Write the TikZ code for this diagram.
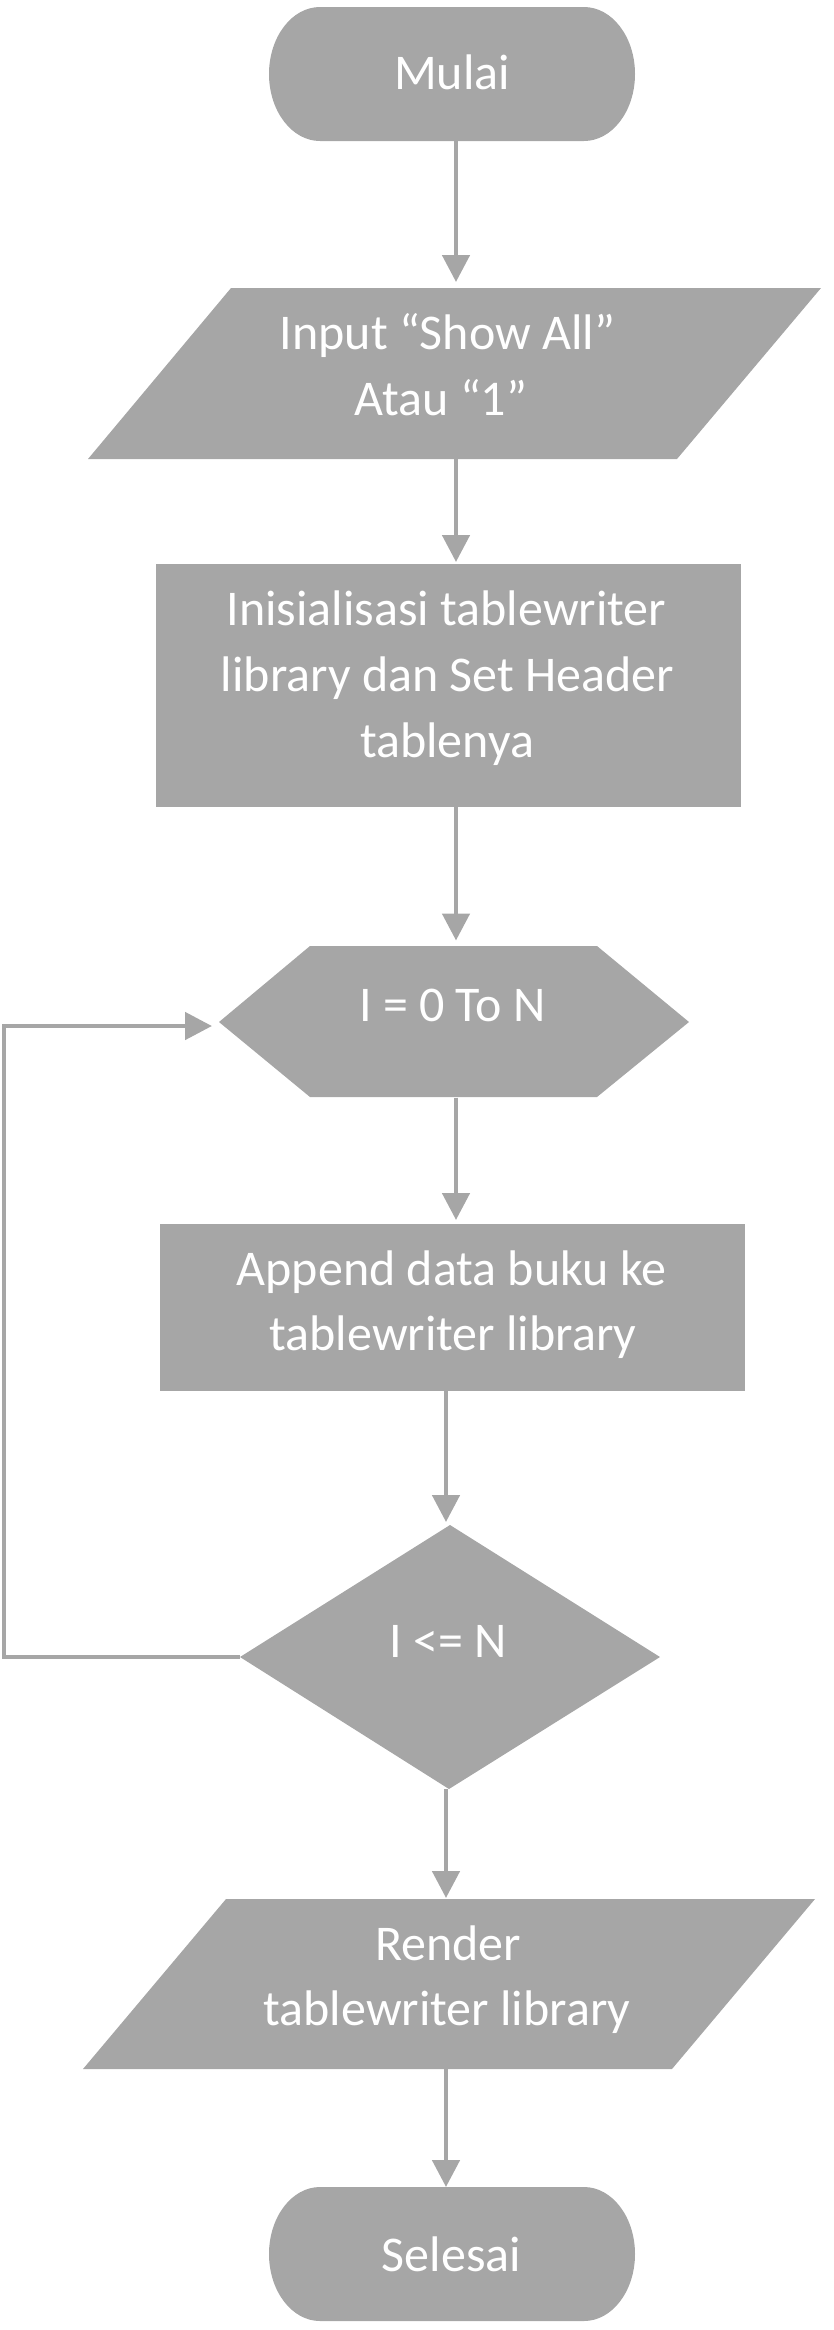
\documentclass[tikz,border=0pt]{standalone}
\usepackage{fontspec}
\setmainfont{Carlito}
\usetikzlibrary{arrows.meta}
\definecolor{gfill}{RGB}{166,166,166}
\definecolor{gline}{RGB}{166,166,166}
\tikzset{
  shapefill/.style={fill=gfill},
  bbox/.style={draw=none,inner sep=0pt,outer sep=0pt,rectangle},
  txt/.style={text=white,anchor=base,inner sep=0pt,font=\fontsize{50}{66}\selectfont},
  conn/.style={draw=gline,line width=4.8pt,-{Triangle[length=27pt,width=27pt]}},
}
\begin{document}
\begin{tikzpicture}[x=1pt,y=-1pt]
\useasboundingbox (0,0) rectangle (833,2330);
% shapes
\fill[shapefill] (320,7) -- (584,7) arc[start angle=-90,end angle=90,x radius=51,y radius=67] -- (320,141) arc[start angle=90,end angle=270,x radius=51,y radius=67] -- cycle;
\fill[shapefill] (231,288) -- (821,288) -- (677,459) -- (88,459) -- cycle;
\fill[shapefill] (156,564) rectangle (741,807);
\fill[shapefill] (219,1022) -- (310,946) -- (597,946) -- (689,1022) -- (597,1097) -- (310,1097) -- cycle;
\fill[shapefill] (160,1224) rectangle (745,1391);
\fill[shapefill] (450,1525) -- (660,1657) -- (449,1789) -- (240,1657) -- cycle;
\fill[shapefill] (226,1899) -- (815,1899) -- (672,2069) -- (83,2069) -- cycle;
\fill[shapefill] (320,2187) -- (584,2187) arc[start angle=-90,end angle=90,x radius=51,y radius=67] -- (320,2321) arc[start angle=90,end angle=270,x radius=51,y radius=67] -- cycle;
% invisible shape nodes
\node[bbox,minimum width=366pt,minimum height=134pt] (mulai) at (452,74) {};
\node[bbox,minimum width=733pt,minimum height=171pt] (input) at (454.5,373.5) {};
\node[bbox,minimum width=585pt,minimum height=243pt] (init) at (448.5,685.5) {};
\node[bbox,minimum width=470pt,minimum height=151pt] (loop) at (454,1022) {};
\node[bbox,minimum width=585pt,minimum height=167pt] (append) at (452.5,1307.5) {};
\node[bbox,minimum width=420pt,minimum height=264pt] (cond) at (450,1657) {};
\node[bbox,minimum width=732pt,minimum height=170pt] (render) at (449,1984) {};
\node[bbox,minimum width=366pt,minimum height=134pt] (selesai) at (452,2254) {};
\coordinate (lx) at (4,0);
% texts
\node[txt] (t-mulai) at (452,89) {Mulai};
\node[txt] (t-in1) at (447.5,349) {Input “Show All”};
\node[txt] (t-in2) at (441,415) {Atau “1”};
\node[txt] (t-init1) at (446.5,625) {Inisialisasi tablewriter};
\node[txt] (t-init2) at (447.5,691) {library dan Set Header};
\node[txt] (t-init3) at (447,757) {tablenya};
\node[txt] (t-loop) at (452.5,1021) {I = 0 To N};
\node[txt] (t-app1) at (451.5,1285) {Append data buku ke};
\node[txt] (t-app2) at (453,1350) {tablewriter library};
\node[txt] (t-cond) at (448,1657) {I <= N};
\node[txt] (t-ren1) at (448,1960) {Render};
\node[txt] (t-ren2) at (447,2025) {tablewriter library};
\node[txt] (t-sel) at (451.5,2271) {Selesai};
% connectors
\draw[conn,shorten >=6pt] ([xshift=4pt]mulai.south) -- ([xshift=4pt]mulai.south |- input.north);
\draw[conn,shorten >=2pt] ([xshift=1.5pt]input.south) -- ([xshift=1.5pt]input.south |- init.north);
\draw[conn,shorten >=6pt] ([xshift=7.5pt]init.south) -- ([xshift=7.5pt]init.south |- loop.north);
\draw[conn,shorten >=4pt] ([xshift=2pt]loop.south) -- ([xshift=2pt]loop.south |- append.north);
\draw[conn,shorten >=3pt] ([xshift=-6.5pt]append.south) -- ([xshift=-6.5pt]append.south |- cond.north);
\draw[conn,shorten >=1pt] ([xshift=-4pt]cond.south) -- ([xshift=-4pt]cond.south |- render.north);
\draw[conn] ([xshift=-3pt]render.south) -- ([xshift=-3pt]render.south |- selesai.north);
\draw[conn,shorten >=7pt] (cond.west) -- (cond.west -| lx) |- ([yshift=-4pt]loop.west);
\end{tikzpicture}
\end{document}
